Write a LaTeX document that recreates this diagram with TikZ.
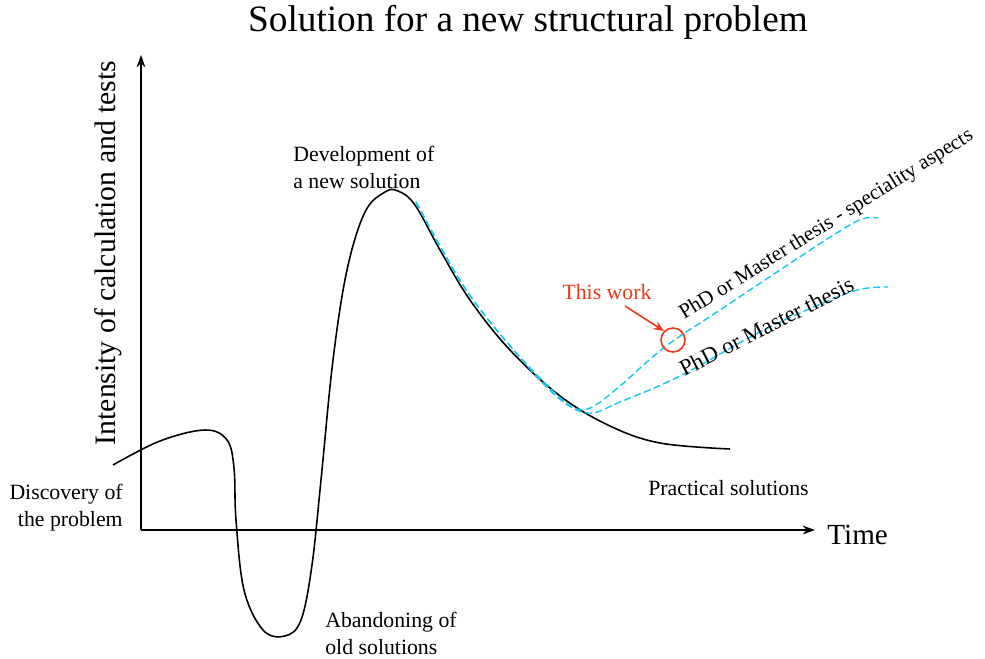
\documentclass[tikz,border=0pt]{standalone}
\usepackage{fontspec}
\setmainfont{Liberation Serif}
\usetikzlibrary{arrows.meta}
\definecolor{workred}{RGB}{240,55,25}
\definecolor{pathcyan}{RGB}{20,200,240}
\begin{document}
\begin{tikzpicture}[x=0.02cm,y=-0.02cm,
  axis/.style={line width=0.8pt,-{Stealth[length=7pt,width=5pt]}},
  curve/.style={line width=0.9pt,black},
  route/.style={line width=0.8pt,pathcyan,dashed,dash pattern=on 4pt off 2pt},
  lbl/.style={font=\fontsize{12.4}{15.5}\selectfont,align=left,inner sep=0pt},
  routelbl/.style={inner sep=0pt,anchor=base west}]
\useasboundingbox (0,0) rectangle (985,659);

% title
\node[font=\fontsize{21.2}{24}\selectfont,inner sep=0pt] (title) at (528,22) {Solution for a new structural problem};

% axes
\coordinate (o) at (141,530);
\coordinate (ytip) at (141,55);
\coordinate (xtip) at (815,530);
\draw[axis] (o) -- (ytip);
\draw[axis] (o) -- (xtip);
\node[font=\fontsize{16.9}{20}\selectfont,rotate=90,inner sep=0pt] (ylab) at (108,253) {Intensity of calculation and tests};
\node[font=\fontsize{16.6}{20}\selectfont,inner sep=0pt,anchor=west] (xlab) at (827,535) {Time};

% main curve
\draw[curve] plot[smooth,tension=0.6] coordinates {
  (113,465) (160,441) (205,430) (227,440) (234,468) (236,520) (244,590)
  (263,630) (285,636) (301,620) (312,565) (321,480) (333,360) (347,270)
  (365,212) (385,192) (398,191) (415,205) (440,250) (470,300) (510,350)
  (560,396) (610,426) (660,443) (730,449)};

% dashed routes
\draw[route] plot[smooth,tension=0.6] coordinates {
  (416,202) (441,248) (471,297) (511,347) (555,393) (577,409) (594,406)
  (620,386) (648,361) (673,341) (720,310) (780,270) (835,234) (862,219) (878,218)};
\draw[route] plot[smooth,tension=0.6] coordinates {
  (416,202) (441,248) (471,297) (511,347) (556,396) (588,413) (620,402)
  (680,376) (760,332) (830,300) (862,289) (888,287)};

% marker for this work
\node[draw=workred,line width=0.9pt,circle,minimum size=0.48cm,inner sep=0pt] (mark) at (673,340) {};
\node[lbl,text=workred] (work) at (607,292) {This work};
\draw[workred,line width=0.9pt,-{Stealth[length=6pt,width=5pt]}] (work.south) ++(18,6) -- (mark.north west);

% route labels
\node[routelbl,font=\fontsize{12}{14}\selectfont,rotate=32] (spec) at (684,320) {PhD or Master thesis - speciality aspects};
\node[routelbl,font=\fontsize{13}{16}\selectfont,rotate=27] (thesis) at (684,377) {PhD or Master thesis};

% stage labels
\node[lbl,anchor=north west] (dev) at (293,146) {Development of\\a new solution};
\node[lbl,anchor=north east,align=right] (disc) at (123,484) {Discovery of\\the problem};
\node[lbl,anchor=north west] (aband) at (325,612) {Abandoning of\\old solutions};
\node[lbl,anchor=north west] (pract) at (648,480) {Practical solutions};
\end{tikzpicture}
\end{document}
